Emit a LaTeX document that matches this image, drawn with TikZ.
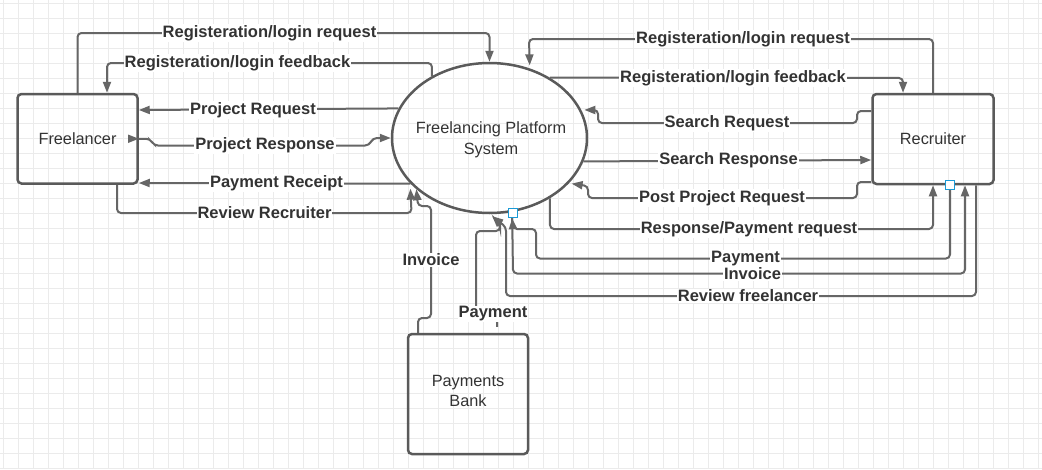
\documentclass[tikz,border=0pt]{standalone}
\usepackage{fontspec}
\setmainfont{Liberation Sans}
\usetikzlibrary{arrows.meta,shapes.geometric}
\definecolor{linec}{HTML}{666666}
\definecolor{boxc}{HTML}{5A5A5A}
\definecolor{txtc}{HTML}{333333}
\definecolor{gridc}{HTML}{EBEBEB}
\definecolor{selc}{HTML}{1A9AD6}
\newcommand{\lblfont}{\fontsize{16.5}{19}\selectfont\bfseries}
\newcommand{\nodefont}{\fontsize{16.3}{20.5}\selectfont}
\begin{document}
\begin{tikzpicture}[x=1pt,y=-1pt,
  conn/.style={draw=linec, line width=2pt, rounded corners=4pt, -{Triangle[length=11pt,width=8pt]}},
  lbl/.style={font=\lblfont, text=txtc, fill=white, inner sep=1pt},
  box/.style={draw=boxc, line width=2.5pt, rounded corners=4pt, minimum width=120pt, minimum height=90pt, inner sep=0pt, font=\nodefont, text=txtc, align=center},
  sysnode/.style={draw=boxc, line width=2.5pt, ellipse, minimum width=195pt, minimum height=150pt, inner sep=0pt},
  sel/.style={draw=selc, fill=white, line width=1.3pt, minimum size=9pt, inner sep=0pt}]
\useasboundingbox (0,0) rectangle (1042,469);
\fill[white] (0,0) rectangle (1042,469);
\foreach \i in {0,...,69} \draw[gridc, line width=0.8pt] ({3.5+15*\i},0) -- ({3.5+15*\i},469);
\foreach \j in {0,...,31} \draw[gridc, line width=0.8pt] (0,{3.5+15*\j}) -- (1042,{3.5+15*\j});
% nodes
\node[box, minimum height=89.5pt] (fl) at (77.5,138.75) {Freelancer};
\node[box, minimum width=121pt] (rc) at (933,139) {Recruiter};
\node[box, minimum height=120pt] (bank) at (468,394) {};
\node[font=\nodefont, text=txtc, align=center] (banktxt) at (468,391) {Payments\\Bank};
\node[sysnode] (sys) at (489.5,138) {};
\node[font=\nodefont, text=txtc, align=center] (systxt) at (491,140) {Freelancing Platform\\System};
% left connectors
\draw[conn] (fl.north) -- (77.5,33) -- (489.5,33) -- (sys.north);
\draw[conn] (sys.133.5) -- (432,63) -- (107,63) -- ([xshift=29.5pt]fl.north);
\draw[conn] (sys.162.8) -- (fl.east |- 0,110);
\fill[linec] (128,134.5) -- (fl.east) -- (128,143) -- cycle;
\draw[conn] (fl.east) -- (150,138.75) -- (154,145.5) -- (369,145.5) -- (373,138) -- (sys.west);
\draw[conn] (sys.210) -- (fl.east |- 0,183);
\draw[conn] ([xshift=39.5pt]fl.south) -- (117,213) -- (411.5,213) -- ([yshift=-5pt]sys.210);
% bank connectors
\draw[conn] ([xshift=-50pt]bank.north) -- (418,318) -- (431,318) -- (431,206) -- (418,206) -- (sys.215.5);
\draw[conn] ([xshift=29pt,yshift=6pt]bank.north) -- (497,318) -- (476,318) -- (476,231) -- (500,231) -- (500,224) -- ([yshift=-2pt]sys.272);
% right connectors
\draw[conn] (rc.north) -- (933,39) -- (529,39) -- ([yshift=3pt]sys.60);
\draw[conn] (sys.45.7) -- (903,78) -- ([xshift=-30pt]rc.north);
\draw[conn] ([yshift=28pt]rc.west) -- (857,111) -- (857,123) -- (598,123) -- (598,110) -- ([xshift=3pt]sys.17.2);
\draw[conn] (sys.346.7) -- (rc.west |- 0,160);
\draw[conn] ([yshift=-43pt]rc.west) -- (857,182) -- (857,198) -- (588,198) -- (588,186) -- ([xshift=3pt]sys.330.9);
\draw[conn] (sys.315.8) -- (550,229) -- (933,229) -- (rc.south);
\draw[conn] ([xshift=17pt]rc.south) -- (950,258.5) -- (536,258.5) -- (536,229) -- (513,229) -- ([yshift=-6pt]sys.287.9);
\draw[conn] ([yshift=-6pt]sys.287.9) -- (513,273.5) -- (965,273.5) -- ([xshift=32pt]rc.south);
\draw[conn] ([xshift=43pt]rc.south) -- (976,296) -- (506,296) -- (506,227) -- ([yshift=-2pt]sys.272);
% selection handles
\node[sel] (h1) at (513,213) {};
\node[sel] (h2) at ([xshift=17pt]rc.south) {};
% labels
\node[lbl] (l1) at (269.5,33) {Registeration/login request};
\node[lbl] (l2) at (237.5,63) {Registeration/login feedback};
\node[lbl] (l3) at (253,110) {Project Request};
\node[lbl] (l4) at (265,145.5) {Project Response};
\node[lbl] (l5) at (276.5,183) {Payment Receipt};
\node[lbl] (l6) at (264.5,213) {Review Recruiter};
\node[lbl] (l7) at (431,260) {Invoice};
\node[lbl] (l8) at (493,314) {Payment};
\node[lbl] (r1) at (743,39) {Registeration/login request};
\node[lbl] (r2) at (733,78) {Registeration/login feedback};
\node[lbl] (r3) at (727,123) {Search Request};
\node[lbl] (r4) at (728.5,160) {Search Response};
\node[lbl] (r5) at (722,198) {Post Project Request};
\node[lbl] (r6) at (749,229) {Response/Payment request};
\node[lbl] (r7) at (745.5,258.5) {Payment};
\node[lbl] (r8) at (752.5,273.5) {Invoice};
\node[lbl] (r9) at (748,296) {Review freelancer};
\end{tikzpicture}
\end{document}
